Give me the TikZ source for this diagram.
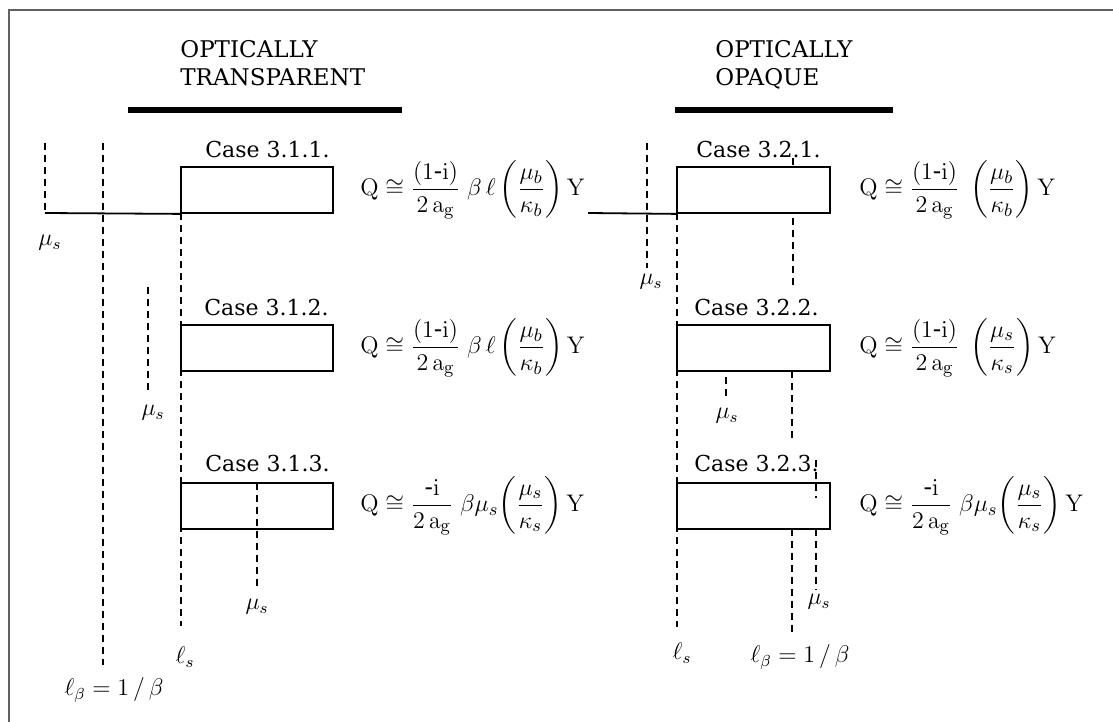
\documentclass[tikz,border=0pt]{standalone}
\usepackage{amsmath}
\usepackage[no-math]{fontspec}
\setmainfont{DejaVu Serif}
\begin{document}
\begin{tikzpicture}[
 x=0.5pt, y=-0.5pt,
 frameline/.style={draw=black!62, line width=1.3pt},
 headbar/.style={line width=2.6pt},
 casebox/.style={draw, fill=white, line width=0.9pt, minimum width=76pt, minimum height=23pt, inner sep=0pt},
 dline/.style={line width=0.75pt, dash pattern=on 3.5pt off 2.5pt},
 solidline/.style={line width=0.9pt},
 head/.style={font=\fontsize{11.5}{14}\selectfont, align=left, inner sep=0pt, anchor=north west},
 casetxt/.style={font=\fontsize{11}{13}\selectfont, inner sep=0pt, anchor=base west},
 formula/.style={font=\fontsize{12.5}{14}\selectfont, inner sep=0pt, anchor=west},
 lbl/.style={font=\fontsize{12}{14}\selectfont, inner sep=0pt}
]
\useasboundingbox (0,0) rectangle (1113,722);
% frame
\draw[frameline] (9,722) -- (9,10) -- (1113,10);

% headings
\node[head] (hT) at (180,40) {OPTICALLY\\TRANSPARENT};
\node[head] (hO) at (715,40) {OPTICALLY\\OPAQUE};
\draw[headbar] (128,110) -- (402,110);
\draw[headbar] (675,110) -- (893,110);

% ---------- left column: dashed lines behind boxes
\draw[dline] (45,143) -- (45,213);
\draw[dline] (103,143) -- (103,665);
\draw[dline] (181,213) -- (181,626);
\draw[dline] (148,287) -- (148,393);

% boxes left
\node[casebox] (b11) at (257,190) {};
\node[casebox] (b12) at (257,348) {};
\node[casebox] (b13) at (257,506) {};
\draw[solidline] (45,213) -- (b11.south west);
\draw[dline] (257,483) -- (257,590);

\node[casetxt] (c11) at (205,157) {Case 3.1.1.};
\node[casetxt] (c12) at (204,315) {Case 3.1.2.};
\node[casetxt] (c13) at (205,471) {Case 3.1.3.};

\node[lbl] (m1) at (50,243) {$\mu_s$};
\node[lbl] (m2) at (153,413) {$\mu_s$};
\node[lbl] (m3) at (257,607) {$\mu_s$};
\node[lbl] (ls1) at (185,657) {$\ell_s$};
\node[lbl] (lb1) at (114,690) {$\ell_\beta = 1\,/\,\beta$};

\node[formula] (f11) at (360,190) {$\mathrm{Q} \cong \dfrac{(1\text{-}\mathrm{i})}{2\,\mathrm{a}_{\mathrm{g}}}\;\beta\,\ell\left(\dfrac{\mu_b}{\kappa_b}\right)\mathrm{Y}$};
\node[formula] (f12) at (360,348) {$\mathrm{Q} \cong \dfrac{(1\text{-}\mathrm{i})}{2\,\mathrm{a}_{\mathrm{g}}}\;\beta\,\ell\left(\dfrac{\mu_b}{\kappa_b}\right)\mathrm{Y}$};
\node[formula] (f13) at (360,506) {$\mathrm{Q} \cong \dfrac{\text{-}\mathrm{i}}{2\,\mathrm{a}_{\mathrm{g}}}\;\beta\mu_s\!\left(\dfrac{\mu_s}{\kappa_s}\right)\mathrm{Y}$};

% ---------- right column
\draw[dline] (647,143) -- (647,268);
\draw[dline] (793,158) -- (793,287);
\draw[dline] (677,213) -- (677,627);
\draw[dline] (726,377) -- (726,400);
\draw[dline] (792,371) -- (792,443);
\draw[dline] (816,529) -- (816,590);
\draw[dline] (792,529) -- (792,635);

\node[casebox, minimum width=76.5pt] (b21) at (753.5,190) {};
\node[casebox, minimum width=76.5pt] (b22) at (753.5,348) {};
\node[casebox, minimum width=76.5pt] (b23) at (753.5,506) {};
\draw[solidline] (588,213) -- (b21.south west);
\draw[dline] (816,460) -- (816,498);

\node[casetxt] (c21) at (696,157) {Case 3.2.1.};
\node[casetxt] (c22) at (694,315) {Case 3.2.2.};
\node[casetxt] (c23) at (694,471) {Case 3.2.3.};

\node[lbl] (m4) at (651,282) {$\mu_s$};
\node[lbl] (m5) at (727,416) {$\mu_s$};
\node[lbl] (m6) at (819,602) {$\mu_s$};
\node[lbl] (ls2) at (682,653) {$\ell_s$};
\node[lbl] (lb2) at (800,657) {$\ell_\beta = 1\,/\,\beta$};

\node[formula] (f21) at (859,190) {$\mathrm{Q} \cong \dfrac{(1\text{-}\mathrm{i})}{2\,\mathrm{a}_{\mathrm{g}}}\;\left(\dfrac{\mu_b}{\kappa_b}\right)\mathrm{Y}$};
\node[formula] (f22) at (859,348) {$\mathrm{Q} \cong \dfrac{(1\text{-}\mathrm{i})}{2\,\mathrm{a}_{\mathrm{g}}}\;\left(\dfrac{\mu_s}{\kappa_s}\right)\mathrm{Y}$};
\node[formula] (f23) at (859,506) {$\mathrm{Q} \cong \dfrac{\text{-}\mathrm{i}}{2\,\mathrm{a}_{\mathrm{g}}}\;\beta\mu_s\!\left(\dfrac{\mu_s}{\kappa_s}\right)\mathrm{Y}$};
\end{tikzpicture}
\end{document}
